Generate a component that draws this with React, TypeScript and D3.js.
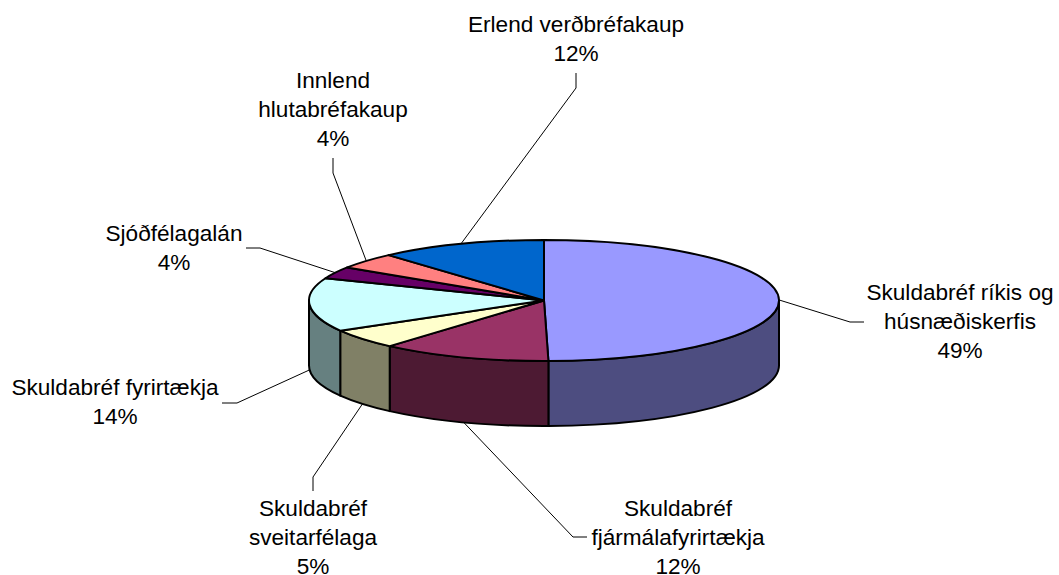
import React from 'react';
import * as d3 from 'd3';

const width = 1059;
const height = 575;

// slice sizes as measured on the drawn ellipse, the printed percents are separate
const sliceShares = [49.7, 11.7, 5.3, 14.3, 3.2, 4.3, 11.5];
const percentLabels = ['49%', '12%', '5%', '14%', '4%', '4%', '12%'];
const nameLines = [
  ['Skuldabréf ríkis og', 'húsnæðiskerfis'],
  ['Skuldabréf', 'fjármálafyrirtækja'],
  ['Skuldabréf', 'sveitarfélaga'],
  ['Skuldabréf fyrirtækja'],
  ['Sjóðfélagalán'],
  ['Innlend', 'hlutabréfakaup'],
  ['Erlend verðbréfakaup'],
];
const topColors = ['#9999FF', '#993366', '#FFFFCC', '#CCFFFF', '#660066', '#FF8080', '#0066CC'];

const cx = 544;
const cy = 300.5;
const rx = 235;
const ry = 60.5;
const depth = 65;
const lineGap = 28.8;

// text centre, first baseline, and the two leader points on the label side
const labelLayout = [
  { x: 960, y: 300, from: [864, 322], elbow: [850, 322] },
  { x: 678, y: 516, from: [587, 537], elbow: [573, 537] },
  { x: 313, y: 516, from: [313, 491], elbow: [313, 477] },
  { x: 115, y: 395, from: [222, 403], elbow: [237, 403] },
  { x: 174, y: 241, from: [246, 248], elbow: [260, 248] },
  { x: 333, y: 88, from: [333, 158], elbow: [333, 173] },
  { x: 576, y: 32, from: [576, 73], elbow: [576, 88] },
];

// angle 0 is the top of the ellipse, going clockwise
const rim = (a: number, dy = 0): [number, number] => [
  cx + rx * Math.sin(a),
  cy - ry * Math.cos(a) + dy,
];

const arcTo = (a0: number, a1: number, dy = 0) => {
  const [x, y] = rim(a1, dy);
  const large = a1 - a0 > Math.PI ? 1 : 0;
  const sweep = a1 >= a0 ? 1 : 0;
  return `A${rx},${ry} 0 ${large} ${sweep} ${x},${y}`;
};

const topPath = (a0: number, a1: number) => {
  const [x, y] = rim(a0);
  return `M${cx},${cy} L${x},${y} ${arcTo(a0, a1)} Z`;
};

const wallPath = (a0: number, a1: number) => {
  const s = Math.max(a0, Math.PI / 2);
  const e = Math.min(a1, (3 * Math.PI) / 2);
  if (e <= s) return null;
  const [x0, y0] = rim(s);
  const [x1, y1] = rim(e, depth);
  return `M${x0},${y0} ${arcTo(s, e)} L${x1},${y1} ${arcTo(e, s, depth)} Z`;
};

const darker = (c: string) => {
  const { r, g, b } = d3.rgb(c);
  return d3.rgb(r * 0.5, g * 0.5, b * 0.5).formatHex();
};

const App = () => {
  const slices = d3.pie<number>().sort(null)(sliceShares);
  const leader = d3.line();

  return (
    <svg
      width={width}
      height={height}
      style={{ position: 'absolute', left: 0, top: 0, background: '#fff' }}
      fontFamily="'Liberation Sans', Arial, sans-serif"
      fontSize={22.6}
    >
      {/* leader lines */}
      {slices.map((s, i) => {
        const mid = (s.startAngle + s.endAngle) / 2;
        const anchor = rim(mid, Math.cos(mid) < 0 ? depth : 0);
        const { from, elbow } = labelLayout[i];
        return (
          <path
            key={i}
            d={leader([from as [number, number], elbow as [number, number], anchor]) as string}
            fill="none"
            stroke="#000"
            strokeWidth={1}
          />
        );
      })}

      {/* side walls */}
      {slices.map((s, i) => {
        const d = wallPath(s.startAngle, s.endAngle);
        return d ? (
          <path key={i} d={d} fill={darker(topColors[i])} stroke="#000" strokeWidth={2} strokeLinejoin="round" />
        ) : null;
      })}

      {/* top face */}
      {slices.map((s, i) => (
        <path
          key={i}
          d={topPath(s.startAngle, s.endAngle)}
          fill={topColors[i]}
          stroke="#000"
          strokeWidth={2}
          strokeLinejoin="round"
        />
      ))}

      {/* labels */}
      {labelLayout.map((l, i) => (
        <text key={i} textAnchor="middle" fill="#000">
          {[...nameLines[i], percentLabels[i]].map((t, j) => (
            <tspan key={j} x={l.x} y={l.y + j * lineGap}>{t}</tspan>
          ))}
        </text>
      ))}
    </svg>
  );
};

export default App;
